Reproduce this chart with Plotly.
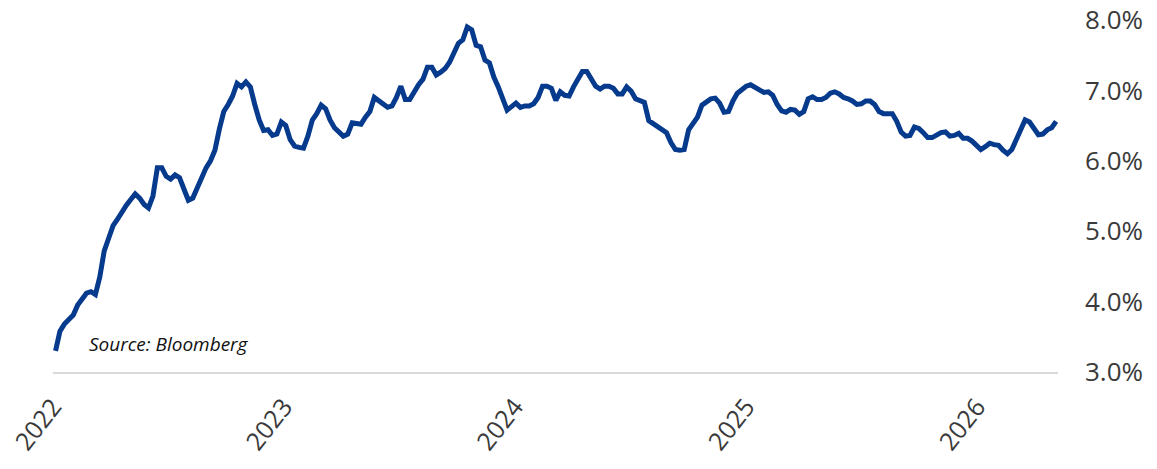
import pandas as pd
import plotly.graph_objects as go

# Weekly rate readings (%), starting first week of Jan 2022
start_date = "2022-01-05"
rates = [
    3.30, 3.58, 3.68, 3.75, 3.81, 3.95, 4.05, 4.12, 4.14, 4.10,
    4.35, 4.72, 4.90, 5.08, 5.17, 5.28, 5.37, 5.45, 5.53, 5.47,
    5.38, 5.33, 5.50, 5.90, 5.90, 5.78, 5.74, 5.80, 5.76, 5.60,
    5.44, 5.47, 5.62, 5.77, 5.90, 6.00, 6.15, 6.45, 6.70, 6.80,
    6.92, 7.10, 7.05, 7.12, 7.05, 6.80, 6.58, 6.43, 6.44, 6.36,
    6.38, 6.55, 6.50, 6.30, 6.21, 6.19, 6.18, 6.35, 6.58, 6.67,
    6.79, 6.74, 6.58, 6.47, 6.42, 6.35, 6.38, 6.54, 6.53, 6.52,
    6.62, 6.70, 6.90, 6.85, 6.79, 6.76, 6.78, 6.90, 7.06, 6.87,
    6.87, 6.98, 7.08, 7.16, 7.33, 7.33, 7.22, 7.26, 7.31, 7.40,
    7.52, 7.67, 7.72, 7.90, 7.86, 7.64, 7.62, 7.43, 7.39, 7.19,
    7.05, 6.87, 6.72, 6.77, 6.82, 6.76, 6.78, 6.78, 6.81, 6.90,
    7.06, 7.06, 7.03, 6.86, 6.98, 6.93, 6.92, 7.05, 7.18, 7.27,
    7.27, 7.15, 7.06, 7.02, 7.06, 7.06, 7.03, 6.95, 6.95, 7.05,
    6.99, 6.88, 6.85, 6.83, 6.57, 6.53, 6.48, 6.45, 6.40, 6.26,
    6.16, 6.15, 6.16, 6.44, 6.53, 6.62, 6.79, 6.84, 6.88, 6.89,
    6.82, 6.69, 6.70, 6.85, 6.96, 7.01, 7.06, 7.08, 7.04, 7.00,
    6.97, 6.98, 6.93, 6.80, 6.71, 6.69, 6.73, 6.72, 6.66, 6.70,
    6.88, 6.91, 6.87, 6.87, 6.90, 6.96, 6.98, 6.95, 6.90, 6.88,
    6.85, 6.80, 6.81, 6.85, 6.85, 6.80, 6.70, 6.67, 6.67, 6.67,
    6.56, 6.41, 6.35, 6.36, 6.48, 6.46, 6.40, 6.33, 6.33, 6.36,
    6.40, 6.41, 6.35, 6.36, 6.39, 6.32, 6.32, 6.28, 6.21, 6.16,
    6.20, 6.25, 6.23, 6.22, 6.15, 6.10, 6.16, 6.30, 6.44, 6.58,
    6.55, 6.47, 6.37, 6.38, 6.44, 6.47, 6.56,
]
dates = pd.date_range(start_date, periods=len(rates), freq="7D")

year_ticks = ["2022-01-01", "2023-01-01", "2024-01-01", "2025-01-01", "2026-01-01"]
year_labels = ["2022", "2023", "2024", "2025", "2026"]
y_ticks = [3, 4, 5, 6, 7, 8]
y_labels = ["3.0%", "4.0%", "5.0%", "6.0%", "7.0%", "8.0%"]
source_text = "Source: Bloomberg"

fig = go.Figure()
fig.add_trace(go.Scatter(
    x=dates, y=rates, mode="lines",
    line=dict(color="#063a8c", width=5, shape="linear"),
    hoverinfo="skip", showlegend=False,
))

fig.update_layout(
    width=1157, height=469,
    margin=dict(l=53, r=99, t=20, b=97),
    paper_bgcolor="white", plot_bgcolor="white",
    font=dict(family="Open Sans", color="#404040"),
    xaxis=dict(
        range=["2022-01-01", "2026-05-09"],
        tickvals=year_ticks, ticktext=year_labels,
        tickangle=-52, tickfont=dict(size=25, color="#3a3a3a"),
        showgrid=False, zeroline=False, automargin=False,
        showline=True, linecolor="#d9d9d9", linewidth=2,
        ticks="", ticklabelstandoff=8, ticklabeloverflow="allow",
    ),
    yaxis=dict(
        range=[3, 8], side="right", automargin=False,
        tickvals=y_ticks, ticktext=y_labels,
        tickfont=dict(size=26, color="#3a3a3a"),
        showgrid=False, zeroline=False, showline=False,
        ticks="", ticklabelstandoff=26, ticklabeloverflow="allow",
    ),
    annotations=[dict(
        text="<i>" + source_text + "</i>",
        xref="paper", yref="paper", x=0.034, y=0.08,
        xanchor="left", yanchor="middle", showarrow=False,
        font=dict(family="Open Sans", size=19, color="#111111"),
    )],
)

fig.write_html(
    "out.html",
    config={"displayModeBar": False, "staticPlot": True},
    post_script="document.body.style.margin='0';document.body.style.overflow='hidden';",
)
